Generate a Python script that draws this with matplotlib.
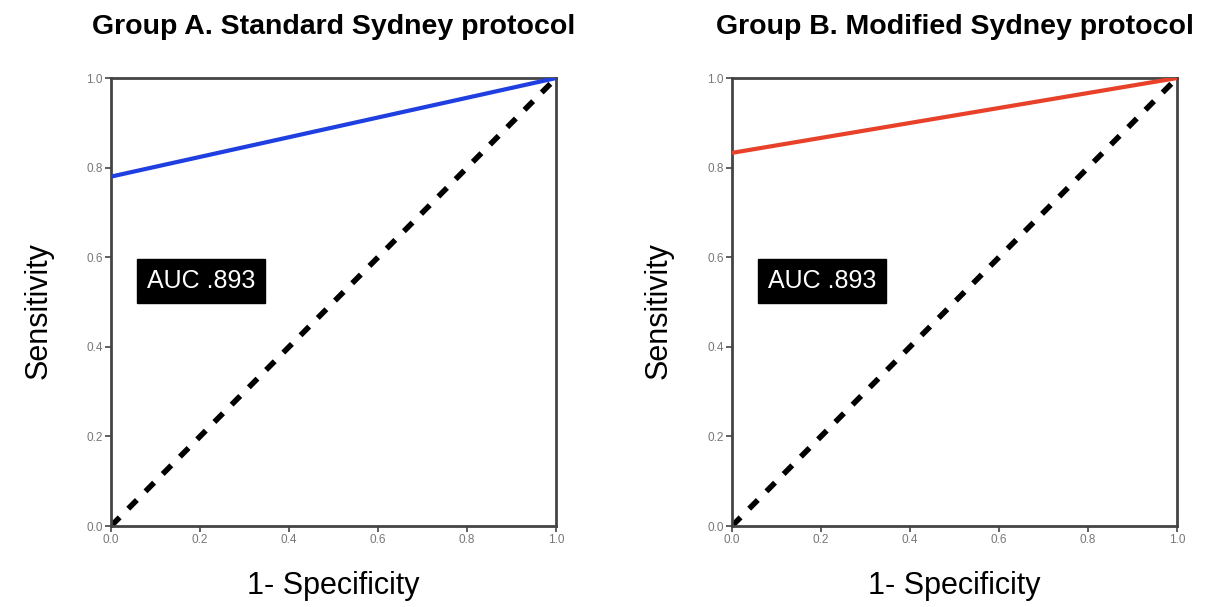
import matplotlib
matplotlib.use("Agg")
import matplotlib.pyplot as plt

plt.rcParams["font.family"] = ["Liberation Sans", "DejaVu Sans"]

# --- Daten ---
titles = ["Group A. Standard Sydney protocol", "Group B. Modified Sydney protocol"]
roc_x = [[0.0, 1.0], [0.0, 1.0]]
roc_y = [[0.78, 1.0], [0.833, 1.0]]
roc_colors = ["#1f3fe0", "#e8412a"]
auc_labels = ["AUC .893", "AUC .893"]
ref_x = [0.0, 1.0]
ref_y = [0.0, 1.0]
ticks = [0.0, 0.2, 0.4, 0.6, 0.8, 1.0]
tick_labels = ["0.0", "0.2", "0.4", "0.6", "0.8", "1.0"]

fig = plt.figure(figsize=(12.24, 6.07), dpi=100)
lefts = [0.0907, 0.598]

for i in range(2):
    ax = fig.add_axes([lefts[i], 0.1334, 0.3636, 0.738])
    ax.plot(ref_x, ref_y, color="black", lw=4, linestyle=(0, (2.2, 2.2)), zorder=2)
    ax.plot(roc_x[i], roc_y[i], color=roc_colors[i], lw=3, zorder=3)
    ax.set_xlim(0, 1)
    ax.set_ylim(0, 1)
    ax.set_xticks(ticks)
    ax.set_yticks(ticks)
    ax.set_xticklabels(tick_labels)
    ax.set_yticklabels(tick_labels)
    ax.tick_params(direction="out", length=4, width=1.2, labelsize=8.5,
                   labelcolor="#777777", color="#444444", pad=2)
    for sp in ax.spines.values():
        sp.set_linewidth(2)
        sp.set_color("#444444")
    ax.set_title(titles[i], fontsize=20.5, fontweight="bold", pad=32)
    ax.set_xlabel("1- Specificity", fontsize=22, labelpad=18)
    ax.set_ylabel("Sensitivity", fontsize=22)
    ax.yaxis.set_label_coords(-0.13, 0.48)
    ax.text(0.081, 0.547, auc_labels[i], transform=ax.transAxes, fontsize=18,
            color="white", va="center", ha="left",
            bbox=dict(boxstyle="square,pad=0.4", facecolor="black", edgecolor="black"))

fig.savefig("out.png", dpi=100)
